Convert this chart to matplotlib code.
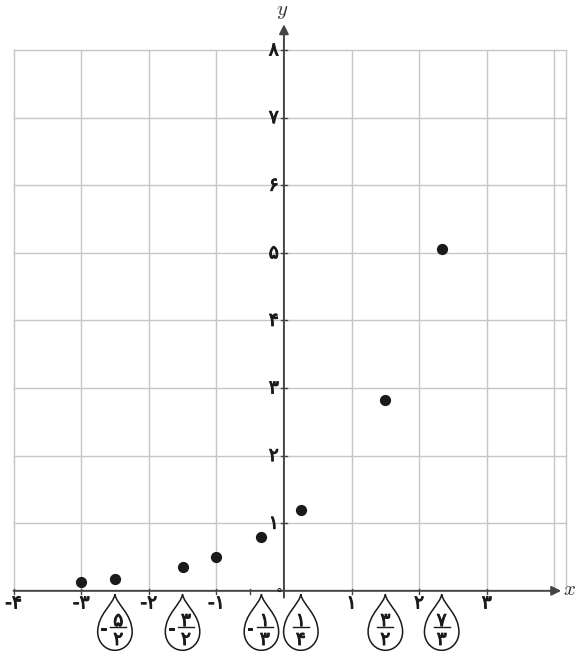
import numpy as np
import matplotlib.pyplot as plt
import matplotlib.patheffects as pe
from matplotlib.path import Path
from matplotlib.patches import PathPatch

plt.rcParams['mathtext.fontset'] = 'cm'
plt.rcParams['font.family'] = ['DejaVu Sans']

# Daten (Punkte)
x_punkte = [-3, -2.5, -1.5, -1, -1/3, 1/4, 3/2, 7/3]
y_punkte = [0.13, 0.18, 0.35, 0.5, 0.8, 1.2, 2.83, 5.05]

x_ticks = [-4, -3, -2, -1, 1, 2, 3]
x_tick_labels = ['-۴', '-۳', '-۲', '-۱', '۱', '۲', '۳']
y_ticks = [1, 2, 3, 4, 5, 6, 7, 8]
y_tick_labels = ['۱', '۲', '۳', '۴', '۵', '۶', '۷', '۸']

# Tropfen-Beschriftungen: Position, Vorzeichen, Zaehler, Nenner
tropfen_x = [-2.5, -1.5, -1/3, 1/4, 3/2, 7/3]
tropfen_neg = [True, True, True, False, False, False]
tropfen_zaehler = ['۵', '۳', '۱', '۱', '۳', '۷']
tropfen_nenner = ['۲', '۲', '۳', '۴', '۲', '۳']

grid_x = [-4, 4.17]
grid_y = [0, 8]

fig = plt.figure(figsize=(5.76, 6.51), dpi=100)
ax = fig.add_axes([0, 0, 1, 1])
ax.set_xlim(-4.2, 4.32)
ax.set_ylim(-0.89, 8.74)
ax.axis('off')

grau = '#c6c6c6'
tinte = '#1a1a1a'
fs = 13.5
dick = [pe.withStroke(linewidth=0.7, foreground=tinte)]

# Gitter
for gx in range(-4, 5):
    if gx <= grid_x[1] and gx != 0:
        ax.plot([gx, gx], grid_y, color=grau, lw=1, zorder=1)
ax.plot([grid_x[1], grid_x[1]], grid_y, color=grau, lw=1, zorder=1)
for gy in range(1, 9):
    ax.plot(grid_x, [gy, gy], color=grau, lw=1, zorder=1)

# Achsen mit Pfeilen
achse = '#444444'
ax.annotate('', xy=(4.1, 0), xytext=(-4, 0),
            arrowprops=dict(arrowstyle='-|>', color=achse, lw=1.4,
                            mutation_scale=14, shrinkA=0, shrinkB=0), zorder=3)
ax.annotate('', xy=(0, 8.38), xytext=(0, -0.1),
            arrowprops=dict(arrowstyle='-|>', color=achse, lw=1.4,
                            mutation_scale=14, shrinkA=0, shrinkB=0), zorder=3)
ax.text(4.22, 0.02, '$x$', fontsize=15, ha='center', va='center', color='#333333')
ax.text(-0.03, 8.58, '$y$', fontsize=15, ha='center', va='center', color='#333333')

# Striche und Beschriftungen
for t, lab in zip(x_ticks, x_tick_labels):
    ax.plot([t, t], [-0.05, 0.03], color=achse, lw=1, zorder=3)
    ax.text(t, -0.18, lab, fontsize=fs, ha='center', va='center', color=tinte, path_effects=dick)
ax.plot([-0.5, -0.5], [-0.05, 0.03], color=achse, lw=1, zorder=3)
for t, lab in zip(y_ticks, y_tick_labels):
    ax.plot([-0.05, 0.05], [t, t], color=achse, lw=1, zorder=3)
    ax.text(-0.15, t, lab, fontsize=fs, ha='center', va='center', color=tinte, path_effects=dick)
ax.text(-0.07, -0.06, '°', fontsize=10, ha='center', va='center', color=tinte)

# Punkte
ax.scatter(x_punkte, y_punkte, s=50, color=tinte, zorder=4)

# Tropfenformen
a, b, m = 0.255, 0.27, -0.61
k = 0.5523
verts = [(0, -0.05),
         (0.02, -0.2), (a, -0.34), (a, m),
         (a, m - k * b), (k * a, m - b), (0, m - b),
         (-k * a, m - b), (-a, m - k * b), (-a, m),
         (-a, -0.34), (-0.02, -0.2), (0, -0.05)]
codes = [Path.MOVETO] + [Path.CURVE4] * 12
for tx, neg, z, n in zip(tropfen_x, tropfen_neg, tropfen_zaehler, tropfen_nenner):
    v = [(tx + px, py) for px, py in verts]
    ax.add_patch(PathPatch(Path(v, codes), facecolor='white', edgecolor=tinte, lw=1.1, zorder=2))
    fx = tx + (0.05 if neg else 0)
    ax.text(fx, -0.44, z, fontsize=fs, ha='center', va='center', color=tinte, path_effects=dick)
    ax.plot([fx - 0.12, fx + 0.12], [-0.54, -0.54], color=tinte, lw=1)
    ax.text(fx, -0.72, n, fontsize=fs, ha='center', va='center', color=tinte, path_effects=dick)
    if neg:
        ax.text(tx - 0.17, -0.56, '-', fontsize=fs, ha='center', va='center', color=tinte, path_effects=dick)

plt.savefig('out.png', dpi=100)
